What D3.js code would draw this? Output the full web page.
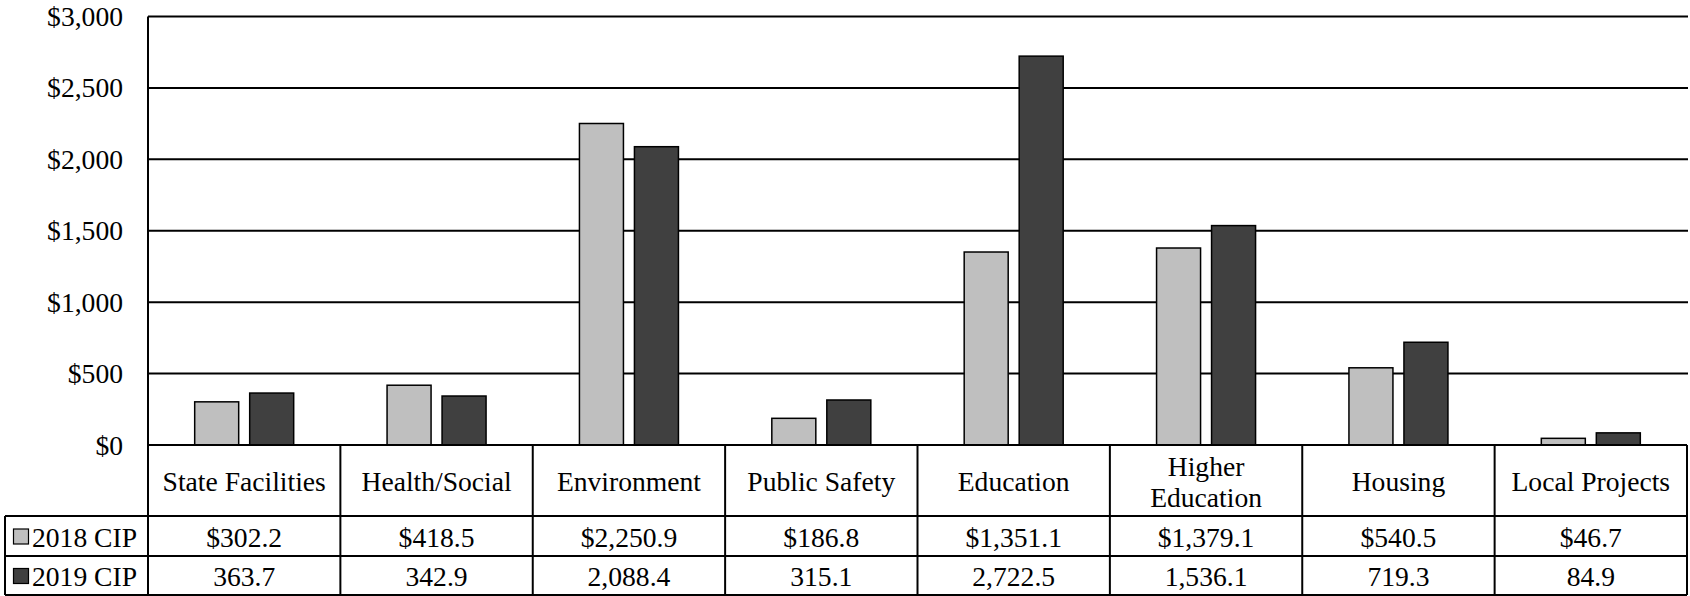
<!DOCTYPE html>
<html>
<head>
<meta charset="utf-8">
<script src="https://cdn.jsdelivr.net/npm/d3@7"></script>
<style>
  html, body { margin: 0; padding: 0; background: #fff; }
  svg { display: block; }
  svg text { font-family: 'Liberation Serif', 'Times New Roman', Times, 'DejaVu Serif', serif; }
</style>
</head>
<body>
<svg id="chart" width="1690" height="596"></svg>
<script>
const categories = ["State Facilities", "Health/Social", "Environment", "Public Safety", "Education", "Higher Education", "Housing", "Local Projects"];
const categoryLines = [["State Facilities"], ["Health/Social"], ["Environment"], ["Public Safety"], ["Education"], ["Higher", "Education"], ["Housing"], ["Local Projects"]];
const seriesNames = ["2018 CIP", "2019 CIP"];
const values2018 = [302.2, 418.5, 2250.9, 186.8, 1351.1, 1379.1, 540.5, 46.7];
const values2019 = [363.7, 342.9, 2088.4, 315.1, 2722.5, 1536.1, 719.3, 84.9];
const labels2018 = ["$302.2", "$418.5", "$2,250.9", "$186.8", "$1,351.1", "$1,379.1", "$540.5", "$46.7"];
const labels2019 = ["363.7", "342.9", "2,088.4", "315.1", "2,722.5", "1,536.1", "719.3", "84.9"];
const yTicks = [0, 500, 1000, 1500, 2000, 2500, 3000];
const colors = ["#bfbfbf", "#404040"];

const FONT = "'Liberation Serif', 'Times New Roman', Times, 'DejaVu Serif', serif";
const svg = d3.select("#chart").attr("font-family", FONT);
const plotLeft = 148, tableRight = 1687, gridRight = 1688;
const plotTop = 16.5, zeroY = 445;
const row1 = 516, row2 = 556, row3 = 595, legendLeft = 5;
const fs = 27.6;

const y = d3.scaleLinear().domain([0, 3000]).range([zeroY, plotTop]);
const x = d3.scaleBand().domain(categories).range([plotLeft, tableRight]).padding(0);
const bw = x.bandwidth();
const x1 = d3.scaleBand().domain(seriesNames).range([bw / 2 - 49.5, bw / 2 + 49.5]).paddingInner(0.2);

// gridlines
svg.append("g").selectAll("line").data(yTicks.filter(t => t > 0)).join("line")
  .attr("x1", plotLeft).attr("x2", gridRight)
  .attr("y1", d => y(d)).attr("y2", d => y(d))
  .attr("stroke", "#000").attr("stroke-width", 2);

// y tick labels
svg.append("g").selectAll("text").data(yTicks).join("text")
  .attr("x", 123).attr("y", d => y(d))
  .attr("text-anchor", "end").attr("dominant-baseline", "central")
  .attr("font-size", fs).attr("font-family", FONT)
  .text(d => "$" + d3.format(",")(d));

// bars
const seriesData = [values2018, values2019];
seriesData.forEach((vals, si) => {
  svg.append("g").selectAll("rect").data(vals).join("rect")
    .attr("x", (d, i) => x(categories[i]) + x1(seriesNames[si]))
    .attr("y", d => y(d))
    .attr("width", x1.bandwidth())
    .attr("height", d => y(0) - y(d))
    .attr("fill", colors[si])
    .attr("stroke", "#000").attr("stroke-width", 1.5);
});

// table lines
const tl = svg.append("g").attr("stroke", "#000").attr("stroke-width", 2);
tl.append("line").attr("x1", plotLeft).attr("x2", tableRight).attr("y1", zeroY).attr("y2", zeroY);
[row1, row2, row3].forEach(yy => tl.append("line").attr("x1", legendLeft).attr("x2", tableRight).attr("y1", yy).attr("y2", yy));
tl.append("line").attr("x1", plotLeft).attr("x2", plotLeft).attr("y1", plotTop).attr("y2", row3);
tl.append("line").attr("x1", legendLeft).attr("x2", legendLeft).attr("y1", row1).attr("y2", row3);
categories.forEach(c => {
  const xx = x(c) + bw;
  tl.append("line").attr("x1", xx).attr("x2", xx).attr("y1", zeroY).attr("y2", row3);
});

// category labels
const catG = svg.append("g").attr("font-size", fs).attr("font-family", FONT).attr("text-anchor", "middle");
categories.forEach((c, i) => {
  const lines = categoryLines[i];
  const cy = (zeroY + row1) / 2 + 1;
  const lh = 31;
  lines.forEach((ln, j) => {
    catG.append("text")
      .attr("x", x(c) + bw / 2)
      .attr("y", cy + (j - (lines.length - 1) / 2) * lh)
      .attr("dominant-baseline", "central")
      .text(ln);
  });
});

// value rows
const rowLabels = [labels2018, labels2019];
const rowCenters = [(row1 + row2) / 2, (row2 + row3) / 2];
rowLabels.forEach((labs, ri) => {
  svg.append("g").selectAll("text").data(labs).join("text")
    .attr("x", (d, i) => x(categories[i]) + bw / 2)
    .attr("y", rowCenters[ri] + 1)
    .attr("text-anchor", "middle").attr("dominant-baseline", "central")
    .attr("font-size", fs).attr("font-family", FONT)
    .text(d => d);
  // legend key
  svg.append("rect")
    .attr("x", 13.5).attr("y", rowCenters[ri] - 7)
    .attr("width", 15).attr("height", 15)
    .attr("fill", colors[ri]).attr("stroke", "#000").attr("stroke-width", 1.2);
  svg.append("text")
    .attr("x", 32).attr("y", rowCenters[ri] + 1)
    .attr("dominant-baseline", "central")
    .attr("font-size", fs).attr("font-family", FONT)
    .text(seriesNames[ri]);
});
</script>
</body>
</html>
